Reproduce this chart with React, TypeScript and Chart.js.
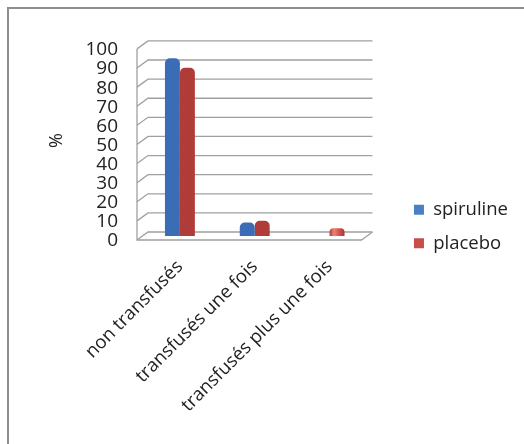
import React, { useEffect, useRef } from "react";
import { Chart, registerables } from "chart.js";

Chart.register(...registerables);

const categories = ["non transfusés", "transfusés une fois", "transfusés plus une fois"];
const spiruline = [93, 7, 0];
const placebo = [88, 8, 4];
const yMin = 0;
const yMax = 100;
const yStep = 10;

const FONT = "'Open Sans', 'Liberation Sans', sans-serif";
const DEPTH_X = 5.5;
const DEPTH_Y = 4;

const frame3d = {
  id: "frame3d",
  beforeDatasetsDraw(chart: any) {
    const { ctx, chartArea } = chart;
    const y = chart.scales.y;
    const L = chartArea.left;
    const R = chartArea.right;
    ctx.save();
    ctx.strokeStyle = "#a0a0a0";
    ctx.lineWidth = 1.3;
    y.ticks.forEach((t: any) => {
      const py = y.getPixelForValue(t.value);
      ctx.beginPath();
      ctx.moveTo(L - DEPTH_X, py + DEPTH_Y);
      ctx.lineTo(L + DEPTH_X, py - DEPTH_Y);
      ctx.lineTo(R + DEPTH_X, py - DEPTH_Y);
      ctx.stroke();
    });
    const y0 = y.getPixelForValue(yMin);
    const yT = y.getPixelForValue(yMax);
    ctx.beginPath();
    ctx.moveTo(L - DEPTH_X, yT + DEPTH_Y);
    ctx.lineTo(L - DEPTH_X, y0 + DEPTH_Y);
    ctx.lineTo(R - DEPTH_X, y0 + DEPTH_Y);
    ctx.lineTo(R + DEPTH_X, y0 - DEPTH_Y);
    ctx.stroke();
    ctx.restore();

    // cylinder shading for bars
    const palettes = [
      ["#3a6db5", "#7eaef0", "#5089d6", "#3563a8"],
      ["#b03c39", "#f07f79", "#d2524d", "#a53835"],
    ];
    chart.data.datasets.forEach((_: any, di: number) => {
      const meta = chart.getDatasetMeta(di);
      const p = palettes[di];
      meta.data.forEach((el: any) => {
        const w = el.width;
        const g = ctx.createLinearGradient(el.x - w / 2, 0, el.x + w / 2, 0);
        g.addColorStop(0, p[0]);
        g.addColorStop(0.3, p[1]);
        g.addColorStop(0.65, p[2]);
        g.addColorStop(1, p[3]);
        el.options.backgroundColor = g;
      });
    });
  },
};

export default function App() {
  const ref = useRef<HTMLCanvasElement>(null);
  useEffect(() => {
    if (!ref.current) return;
    const chart = new Chart(ref.current, {
      type: "bar",
      data: {
        labels: categories,
        datasets: [
          {
            label: "spiruline",
            data: spiruline,
            backgroundColor: "#4f86d0",
            borderRadius: 5,
            borderSkipped: "bottom",
            categoryPercentage: 0.4,
            barPercentage: 1,
          },
          {
            label: "placebo",
            data: placebo,
            backgroundColor: "#d0504c",
            borderRadius: 5,
            borderSkipped: "bottom",
            categoryPercentage: 0.4,
            barPercentage: 1,
          },
        ],
      },
      plugins: [frame3d],
      options: {
        responsive: false,
        animation: false,
        layout: { padding: { left: 0, right: 6, top: 0, bottom: 0 } },
        plugins: {
          tooltip: { enabled: false },
          legend: {
            position: "right",
            maxWidth: 220,
            labels: {
              boxWidth: 10,
              boxHeight: 10,
              padding: 15,
              color: "#222",
              font: { family: FONT, size: 18.5 },
              generateLabels: (chart: any) =>
                chart.data.datasets.map((d: any, i: number) => ({
                  text: d.label,
                  fillStyle: i === 0 ? "#4a7fc6" : "#c84c48",
                  strokeStyle: i === 0 ? "#4a7fc6" : "#c84c48",
                  lineWidth: 0,
                  datasetIndex: i,
                  fontColor: "#222",
                })),
            },
          },
        },
        scales: {
          x: {
            grid: { display: false, drawTicks: false },
            border: { display: false },
            ticks: {
              minRotation: 45,
              maxRotation: 45,
              autoSkip: false,
              padding: 20,
              color: "#222",
              font: { family: FONT, size: 18.5 },
            },
            afterFit: (s: any) => {
              s.height = 208;
            },
          },
          y: {
            min: yMin,
            max: yMax,
            grid: { display: false, drawTicks: false },
            border: { display: false },
            ticks: {
              stepSize: yStep,
              autoSkip: false,
              padding: 24.5,
              labelOffset: 5,
              color: "#222",
              font: { family: FONT, size: 19 },
            },
            title: {
              display: true,
              text: "%",
              color: "#222",
              font: { family: FONT, size: 18 },
              padding: { top: 37, bottom: 0 },
            },
            afterFit: (s: any) => {
              s.width = 133.5;
            },
          },
          y2: {
            position: "right",
            display: true,
            grid: { display: false, drawTicks: false },
            border: { display: false },
            ticks: { display: false },
            afterFit: (s: any) => {
              s.width = 32;
            },
          },
        },
      },
    });
    return () => chart.destroy();
  }, []);
  return (
    <div
      style={{
        position: "absolute",
        left: 7,
        top: 7,
        width: 517,
        height: 437,
        boxSizing: "border-box",
        borderLeft: "2px solid #8e8e8e",
        borderTop: "2px solid #8e8e8e",
        overflow: "hidden",
      }}
    >
      <canvas
        ref={ref}
        width={515}
        height={435}
        style={{ display: "block", width: 515, height: 435 }}
      />
    </div>
  );
}
